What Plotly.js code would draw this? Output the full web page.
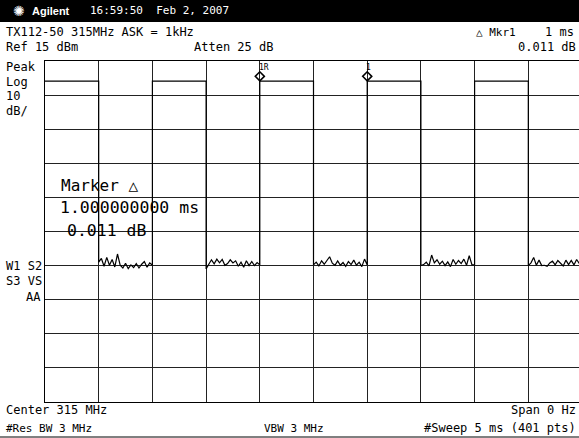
<!DOCTYPE html>
<html>
<head>
<meta charset="utf-8">
<script src="https://cdn.plot.ly/plotly-3.0.1.min.js"></script>
<style>
html,body{margin:0;padding:0;overflow:hidden;background:#fff;width:579px;height:438px;}
#chart{width:582px;height:438px;}
</style>
</head>
<body>
<div id="chart"></div>
<script>
// Sweep: 0..5 ms (0.5 ms/div), Ref 15 dBm, 10 dB/div
var highStartsMs = [0, 1, 2, 3, 4];
var highEndsMs   = [0.5, 1.5, 2.5, 3.5, 4.5];
var highLevelsDbm = [9.1, 9.1, 9.1, 9.1, 9.1];
var noiseStepMs = 0.025;
var noise1 = [-44.0, -42.9, -45.2, -42.6, -44.9, -43.2, -45.4, -41.6, -44.9, -45.7, -44.3, -45.9, -44.8, -45.6, -44.4, -45.7, -44.6, -43.8, -45.5, -44.2, -44.9];
var noise2 = [-46.0, -44.6, -43.3, -44.5, -43.1, -44.2, -43.2, -44.9, -44.4, -43.3, -44.2, -43.6, -45.2, -44.0, -45.5, -43.6, -45.0, -43.8, -45.0, -44.1, -44.8];
var noise3 = [-44.8, -44.0, -45.1, -43.6, -44.6, -43.5, -42.4, -44.3, -44.9, -43.6, -44.9, -44.1, -45.2, -43.8, -44.7, -43.4, -44.9, -44.0, -45.3, -43.1, -44.8];
var noise4 = [-45.0, -44.7, -44.0, -45.1, -41.9, -44.2, -43.3, -44.6, -43.7, -45.0, -43.9, -45.3, -43.2, -44.6, -43.5, -44.4, -43.1, -44.9, -42.1, -44.7, -44.8];
var noise5 = [-45.0, -44.2, -42.6, -44.9, -43.4, -45.0, -44.9, -45.2, -44.2, -43.7, -44.8, -43.5, -44.3, -45.1, -43.4, -44.7, -43.5, -44.8, -43.2, -44.4, -44.6];
var noiseSegments = [noise1, noise2, noise3, noise4, noise5];

var markerTimesMs = [2.0, 3.0];
var markerLevelsDbm = [10.5, 10.5];
var markerLabels = ["1R", "1"];

var xRangeMs = [0, 5];
var yRangeDbm = [-85, 15];

// ---- Build trace ----
var tx = [], ty = [];
for (var i = 0; i < highStartsMs.length; i++) {
  tx.push(highStartsMs[i], highEndsMs[i]);
  ty.push(highLevelsDbm[i], highLevelsDbm[i]);
  var seg = noiseSegments[i];
  for (var k = 0; k < seg.length; k++) {
    tx.push(highEndsMs[i] + k * noiseStepMs);
    ty.push(seg[k]);
  }
}

var FONT = "DejaVu Sans Mono";
var L = 45, T = 61, W = 537, H = 341;
function xp(px) { return (px - L) / W; }
function yp(py) { return (T + H - py) / H; }
function ann(text, px, py, size, xanchor, color, family) {
  return {text: text, xref: 'paper', yref: 'paper', x: xp(px), y: yp(py),
    xanchor: xanchor || 'left', yanchor: 'middle', showarrow: false,
    font: {family: family || FONT, size: size, color: color || '#000'}};
}

var annotations = [
  ann('\u273A', 11, 11, 14, 'left', '#fff', 'DejaVu Sans'),
  ann('<b>Agilent</b>', 30, 11, 11, 'left', '#fff', 'Liberation Sans'),
  ann('16:59:50  Feb 2, 2007', 88, 11, 11, 'left', '#fff'),
  ann('TX112-50 315MHz ASK = 1kHz', 4, 32, 12),
  ann('Ref 15 dBm', 4, 47, 12),
  ann('Atten 25 dB', 192, 47, 12),
  ann('\u25B3 Mkr1', 474, 32, 11),
  ann('1 ms', 543, 32, 12),
  ann('0.011 dB', 578, 47, 12, 'right'),
  ann('Peak', 4, 67, 12),
  ann('Log', 4, 82, 12),
  ann('10', 4, 96, 12),
  ann('dB/', 4, 111, 12),
  ann('W1 S2', 4, 266, 12),
  ann('S3 VS', 4, 281, 12),
  ann('AA', 43, 297, 12, 'right'),
  ann('Center 315 MHz', 4, 410, 12),
  ann('#Res BW 3 MHz', 4, 428, 11),
  ann('VBW 3 MHz', 262, 428, 11),
  ann('Span 0 Hz', 578, 410, 12, 'right'),
  ann('#Sweep 5 ms (401 pts)', 578, 428, 12, 'right'),
  ann('Marker \u25B3', 59, 185, 16),
  ann('1.000000000 ms', 58, 208, 16.5),
  ann('0.011 dB', 65, 230, 16.5)
];
for (var m = 0; m < markerTimesMs.length; m++) {
  annotations.push({text: markerLabels[m], x: markerTimesMs[m], y: markerLevelsDbm[m],
    xref: 'x', yref: 'y', xanchor: 'left', yanchor: 'bottom', xshift: -3, yshift: 2,
    showarrow: false, font: {family: FONT, size: 8, color: '#000'}});
}

var shapes = [
  {type: 'rect', xref: 'paper', yref: 'paper', x0: xp(0), x1: xp(585), y0: yp(22), y1: yp(-2),
   fillcolor: '#000', line: {width: 0}, layer: 'above'},
  {type: 'line', xref: 'paper', yref: 'paper', x0: xp(0), x1: xp(585), y0: yp(437), y1: yp(437),
   line: {color: '#000', width: 1}}
];

var data = [
  {x: tx, y: ty, type: 'scatter', mode: 'lines', line: {color: '#000', width: 1.2}, hoverinfo: 'skip'},
  {x: markerTimesMs, y: markerLevelsDbm, type: 'scatter', mode: 'markers',
   marker: {symbol: 'diamond-open', size: 7, color: '#000', line: {width: 1.5, color: '#000'}}, hoverinfo: 'skip'}
];

var axisCommon = {showgrid: true, gridcolor: '#222', gridwidth: 1, zeroline: false,
  showticklabels: false, ticks: '', showline: true, linecolor: '#000', linewidth: 1, mirror: true, fixedrange: true};

var layout = {
  width: 582, height: 438,
  margin: {l: L, r: 0, t: T, b: 36, pad: 0},
  paper_bgcolor: '#fff', plot_bgcolor: '#fff',
  showlegend: false,
  xaxis: Object.assign({range: xRangeMs, tick0: 0, dtick: 0.5}, axisCommon),
  yaxis: Object.assign({range: yRangeDbm, tick0: -85, dtick: 10}, axisCommon),
  annotations: annotations,
  shapes: shapes
};

Plotly.newPlot('chart', data, layout, {displayModeBar: false, staticPlot: true});
</script>
</body>
</html>
